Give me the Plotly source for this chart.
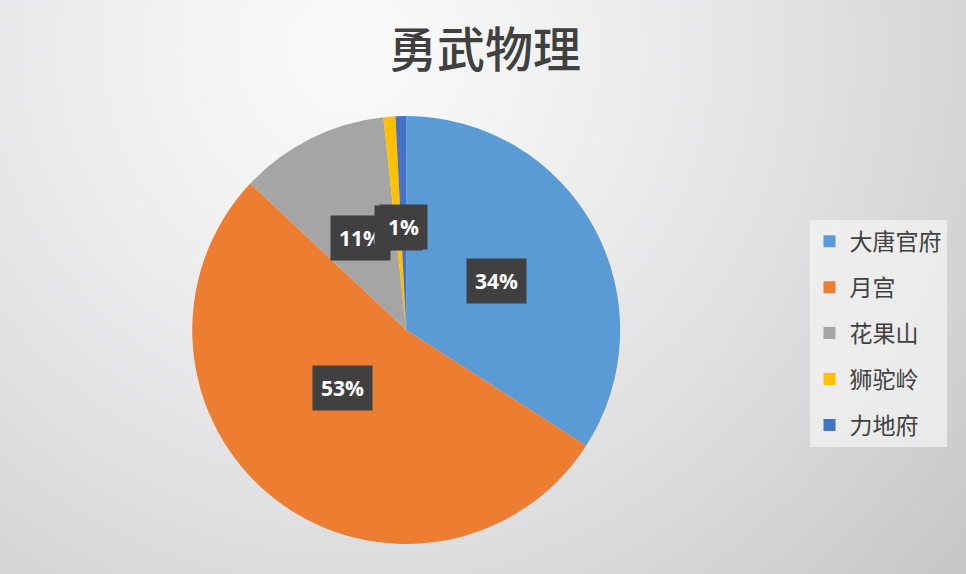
import base64
import math
import struct
import zlib

import numpy as np
import plotly.graph_objects as go

# data
schools = ["大唐官府", "月宫", "花果山", "狮驼岭", "力地府"]
shares = [34.1, 52.9, 11.3, 0.9, 0.8]
colors = ["#5B9BD5", "#ED7D31", "#A5A5A5", "#FFC000", "#4472C4"]
title = "勇武物理"

W, H = 966, 574
dom_x = [0.199, 0.642]
dom_y = [0.052, 0.798]


def bg_png(w, h):
    # soft radial grey gradient like the office chart area
    yy, xx = np.mgrid[0:h, 0:w]
    d = np.sqrt((xx * 2 - 350) ** 2 + (yy * 2 - 50) ** 2) / 790.0
    v = 250 - 50 * np.clip(d, 0, 1.2) ** 1.3
    img = np.stack([v, v, v + 3 * d], axis=-1).clip(0, 255).astype(np.uint8)
    raw = b"".join(b"\x00" + img[r].tobytes() for r in range(h))

    def chunk(tag, data):
        c = struct.pack(">I", len(data)) + tag + data
        return c + struct.pack(">I", zlib.crc32(tag + data) & 0xFFFFFFFF)

    png = b"\x89PNG\r\n\x1a\n"
    png += chunk(b"IHDR", struct.pack(">IIBBBBB", w, h, 8, 2, 0, 0, 0))
    png += chunk(b"IDAT", zlib.compress(raw, 9))
    png += chunk(b"IEND", b"")
    return "data:image/png;base64," + base64.b64encode(png).decode()


fig = go.Figure()
fig.add_trace(go.Pie(
    labels=schools, values=shares, sort=False, direction="clockwise",
    marker=dict(colors=colors, line=dict(width=0)),
    textinfo="none", showlegend=False,
    domain=dict(x=dom_x, y=dom_y),
))

# legend entries as dummy traces so the rows can be spaced out
for name, col in zip(schools, colors):
    fig.add_trace(go.Scatter(
        x=[None], y=[None], mode="markers", name=name, legendgroup=name,
        marker=dict(symbol="square", size=12, color=col),
    ))

# dark label boxes at the middle of each slice
total = sum(shares)
cx = (dom_x[0] + dom_x[1]) / 2
cy = (dom_y[0] + dom_y[1]) / 2
rad_px = (dom_x[1] - dom_x[0]) * W / 2
acc = 0
for v in shares:
    mid = (acc + v / 2) / total * 2 * math.pi
    acc += v
    fig.add_annotation(
        x=cx + 0.48 * rad_px * math.sin(mid) / W,
        y=cy + 0.48 * rad_px * math.cos(mid) / H,
        xref="paper", yref="paper", showarrow=False,
        text="<b>%d%%</b>" % round(v / total * 100),
        font=dict(family="Open Sans", size=21, color="white"),
        bgcolor="#404040", borderpad=8,
    )

fig.add_layout_image(
    source=bg_png(W // 2, H // 2), xref="paper", yref="paper",
    x=0, y=1, sizex=1, sizey=1, sizing="stretch", layer="below",
    xanchor="left", yanchor="top",
)

fig.update_layout(
    width=W, height=H,
    margin=dict(l=0, r=0, t=0, b=0),
    paper_bgcolor="#e4e4e6", plot_bgcolor="rgba(0,0,0,0)",
    title=dict(text=title, x=0.502, y=0.913,
               xanchor="center", yanchor="middle",
               font=dict(family="Noto Sans CJK SC", size=48, weight=500,
                         color="#404040")),
    xaxis=dict(visible=False), yaxis=dict(visible=False),
    legend=dict(
        x=0.838, y=0.617, xanchor="left", yanchor="top",
        bgcolor="rgba(243,243,243,0.75)", tracegroupgap=13,
        font=dict(family="Noto Sans CJK SC", size=23, color="#404040"),
    ),
)

fig.write_html("out.html", config={"displayModeBar": False},
               post_script="document.body.style.margin='0';")
